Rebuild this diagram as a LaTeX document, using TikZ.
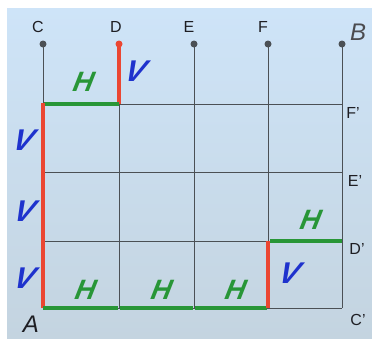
\documentclass[tikz,border=0pt]{standalone}
\usepackage{fontspec}
\setmainfont{Liberation Sans}
\begin{document}
\begin{tikzpicture}[x=1pt,y=-1pt,
  grid/.style={draw=gridc,line width=1pt},
  dotc/.style={circle,fill=gridc,inner sep=0pt,minimum size=7pt},
  hseg/.style={draw=hgreen,line width=3.6pt},
  vseg/.style={draw=vred,line width=3.6pt},
  hlab/.style={text=hgreen,font=\fontsize{28}{28}\selectfont\bfseries\itshape,inner sep=0pt,xslant=0.2},
  vlab/.style={text=vblue,font=\fontsize{30}{30}\selectfont\bfseries\itshape,inner sep=0pt,xslant=0.3},
  ptlab/.style={text=labc,font=\fontsize{16}{16}\selectfont,inner sep=0pt},
  biglab/.style={text=labc!80,font=\fontsize{24}{24}\selectfont\itshape,inner sep=0pt}]
\definecolor{gridc}{RGB}{75,80,85}
\definecolor{hgreen}{RGB}{40,150,55}
\definecolor{vred}{RGB}{235,70,50}
\definecolor{vblue}{RGB}{30,50,205}
\definecolor{labc}{RGB}{30,30,35}
\definecolor{bgtop}{RGB}{206,228,248}
\definecolor{bgbot}{RGB}{196,212,224}
\useasboundingbox (0,0) rectangle (372,338);
\fill[white] (0,0) rectangle (372,338);
\shade[top color=bgtop,bottom color=bgbot] (7,8) rectangle (372,338);
% grid coordinates
\foreach \n/\x in {c/43,d/119,e/194,f/268,b/342}{
  \coordinate (\n0) at (\x,44);
  \coordinate (\n1) at (\x,104);
  \coordinate (\n2) at (\x,172);
  \coordinate (\n3) at (\x,241);
  \coordinate (\n4) at (\x,308);
}
% vertical lines
\foreach \n in {c,d,e,f,b}{ \draw[grid] (\n0) -- (\n4); }
% horizontal lines
\foreach \r in {1,2,3,4}{ \draw[grid] (c\r) -- (b\r); }
% dots
\node[dotc] (dc) at (c0) {};
\node[dotc,fill=vred] (dd) at (d0) {};
\node[dotc] (de) at (e0) {};
\node[dotc] (df) at (f0) {};
\node[dotc] (db) at (b0) {};
% path segments
\draw[vseg] (dd.center) -- (d1);
\draw[hseg] (d1) -- ([xshift=1pt]c1);
\draw[vseg] ([yshift=1.5pt]c1) -- ([yshift=-1pt]c2);
\draw[vseg] ([yshift=1pt]c2) -- ([yshift=-1pt]c3);
\draw[vseg] ([yshift=1pt]c3) -- (c4);
\draw[hseg] (c4) -- ([xshift=-1pt]d4);
\draw[hseg] ([xshift=1pt]d4) -- ([xshift=-1pt]e4);
\draw[hseg] ([xshift=1pt]e4) -- ([xshift=-1pt]f4);
\draw[vseg] (f4) -- (f3);
\draw[hseg] ([xshift=2pt]f3) -- (b3);
% H / V labels
\node[hlab] (h1) at (84,82) {H};
\node[hlab] (h2) at (86,290) {H};
\node[hlab] (h3) at (162,290) {H};
\node[hlab] (h4) at (236,290) {H};
\node[hlab] (h5) at (311,220) {H};
\node[vlab] (v1) at (136,71) {V};
\node[vlab] (v2) at (24,140) {V};
\node[vlab] (v3) at (25,211) {V};
\node[vlab] (v4) at (25,278) {V};
\node[vlab] (v5) at (290,273) {V};
% point labels
\node[ptlab] (lc) at (38,27) {C};
\node[ptlab] (ld) at (116,27) {D};
\node[ptlab] (le) at (189,27) {E};
\node[ptlab] (lf) at (263,27) {F};
\node[biglab] (lb) at (358,32) {B};
\node[ptlab] (lf2) at (353,113) {F'};
\node[ptlab] (le2) at (355,181) {E'};
\node[ptlab] (ld2) at (357,249) {D'};
\node[ptlab] (lc2) at (358,320) {C'};
\node[biglab,text=labc] (la) at (31,324) {A};
\end{tikzpicture}
\end{document}
